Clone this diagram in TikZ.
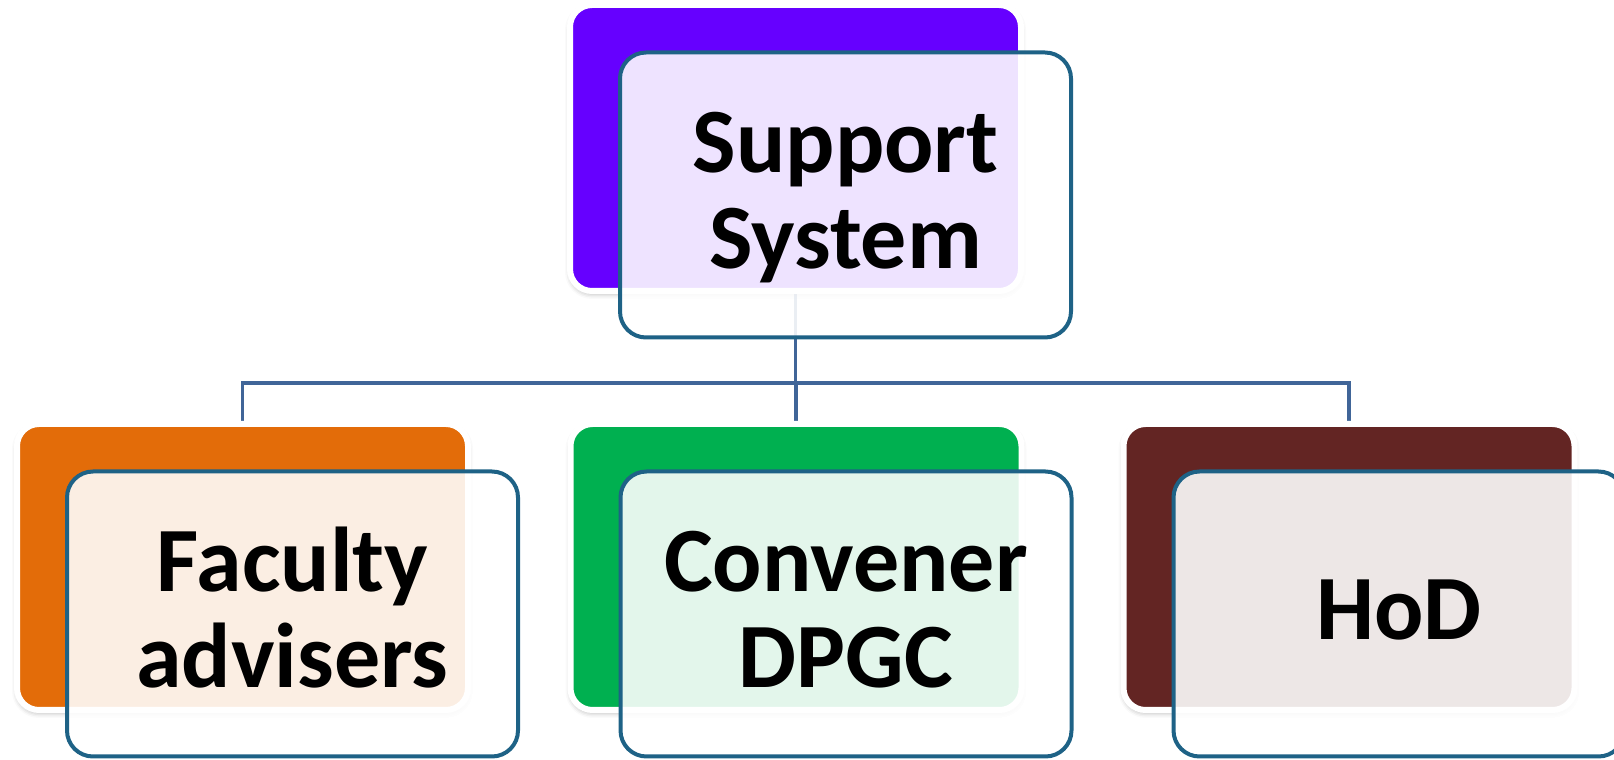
\documentclass[tikz,border=0pt]{standalone}
\usepackage{fontspec}
\setmainfont{Carlito}
\usetikzlibrary{positioning,backgrounds,shadows.blur}
\definecolor{supcol}{HTML}{6600FF}
\definecolor{faccol}{HTML}{E36C09}
\definecolor{convcol}{HTML}{00B050}
\definecolor{hodcol}{HTML}{632523}
\definecolor{framecol}{RGB}{30,98,134}
\definecolor{linkcol}{RGB}{64,101,152}
% fixed line box so every label centres the same way
\newcommand{\lstrut}{\rule[-22pt]{0pt}{96pt}}

\begin{document}
\begin{tikzpicture}[x=1pt,y=1pt,
    back/.style={rectangle,rounded corners=22pt,draw=white,line width=6pt,fill=#1,
      minimum width=451pt,minimum height=286pt,inner sep=0pt,outer sep=0pt,
      blur shadow={shadow xshift=0pt,shadow yshift=-3pt,shadow blur radius=5pt,shadow opacity=30}},
    front/.style={rectangle,rounded corners=26pt,draw=framecol,line width=4pt,
      fill=white,fill opacity=0.89,text opacity=1,minimum width=451pt,minimum height=285pt,
      inner sep=0pt,align=center,font=\bfseries\fontsize{92}{96}\selectfont},
    link/.style={draw=linkcol,line width=3.5pt}]
	\useasboundingbox (0,0) rectangle (1614,760);
	% coloured cards
	\node[back=supcol] (supB) at (795.5,612) {};
	\node[back=faccol] (facB) at (242.5,193) {};
	\node[back=convcol] (convB) at (796,193) {};
	\node[back=hodcol] (hodB) at (1349,193) {};
	% framed label cards, shifted down and right
	\node[front,xshift=50pt,yshift=-47pt] (sup) at (supB.center) {\lstrut Support\\\lstrut System};
	\node[front,xshift=50pt,yshift=-47pt] (fac) at (facB.center) {\lstrut Faculty\\\lstrut advisers};
	\node[front,xshift=50pt,yshift=-47pt] (conv) at (convB.center) {\lstrut Convener\\\lstrut DPGC};
	\node[front,xshift=50pt,yshift=-47pt] (hod) at (hodB.center) {\lstrut HoD};
	% tree lines behind the cards
	\begin{scope}[on background layer]
		\coordinate (bus) at (0,377);
		\draw[link] (supB.south) -- (supB.south |- bus);
		\draw[link] (facB.north) |- (bus -| hodB.north) -- (hodB.north);
		\draw[link] (convB.north) -- (convB.north |- bus);
	\end{scope}
\end{tikzpicture}
\end{document}
